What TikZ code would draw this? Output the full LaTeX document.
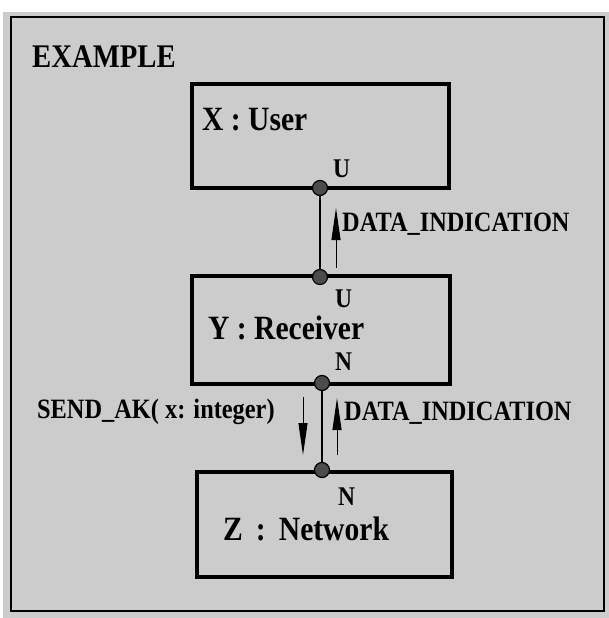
\documentclass[tikz,border=0pt]{standalone}
\usepackage{fontspec}
\setmainfont{Liberation Serif}[FakeStretch=0.87]
\usetikzlibrary{arrows.meta}
\definecolor{screen}{gray}{0.80}
\tikzset{
  unitbox/.style={draw=black, line width=3.4pt, fill=none, inner sep=0pt},
  port/.style={circle, draw=black, line width=1.2pt, fill=black!70, inner sep=0pt, minimum size=15pt},
  channel/.style={line width=2.8pt, black},
  signal/.style={line width=1pt, black, -{Triangle[length=32pt, width=9pt]}},
  title/.style={font=\bfseries\fontsize{33}{33}\selectfont, inner sep=0pt, anchor=base west},
  unitname/.style={font=\bfseries\fontsize{34}{34}\selectfont, inner sep=0pt, anchor=base west},
  gatename/.style={font=\bfseries\fontsize{27}{27}\selectfont, inner sep=0pt, anchor=base west},
  signame/.style={font=\bfseries\fontsize{28}{28}\selectfont, inner sep=0pt, anchor=base west},
}
\begin{document}
\begin{tikzpicture}[x=1pt, y=-1pt]
  \useasboundingbox (0,0) rectangle (609,618);
  % halftone background and frame of the example
  \fill[screen] (3,12) rectangle (609,618);
  \draw[line width=2.4pt] (11,17) rectangle (604,611);
  \node[title] (ex) at (32,67) {EXAMPLE};

  % the three units
  \node[unitbox, minimum width=257pt, minimum height=104pt] (xu) at (320.5,136) {};
  \node[unitbox, minimum width=258pt, minimum height=108pt] (yr) at (321,330) {};
  \node[unitbox, minimum width=255pt, minimum height=105pt] (zn) at (324.5,524.5) {};

  \node[unitname] (xl) at (202,130) {X : User};
  \node[unitname] (yl) at (208,339) {Y : Receiver};
  \node[unitname] (zl) at (223,540) {Z\, :\, Network};

  % gates on the unit borders
  \node[port] (pxu) at (320,188) {};
  \node[port] (pyu) at (320,277) {};
  \node[port] (pyn) at (322,383) {};
  \node[port] (pzn) at (322,470) {};

  \node[gatename] (gxu) at (333,177) {U};
  \node[gatename] (gyu) at (335,307) {U};
  \node[gatename] (gyn) at (335,370) {N};
  \node[gatename] (gzn) at (338,505) {N};

  % channels between gates
  \draw[channel] (pxu) -- (pyu);
  \draw[channel] (pyn) -- (pzn);

  % signals carried by the channels
  \coordinate (s1a) at (336,268);
  \coordinate (s1b) at (336,208);
  \draw[signal] (s1a) -- (s1b);
  \node[signame] (d1) at (342,231) {DATA\_INDICATION};

  \coordinate (s2a) at (303,397);
  \coordinate (s2b) at (303,455);
  \draw[signal] (s2a) -- (s2b);
  \node[signame] (sk) at (37,418) {SEND\_AK( x: integer)};

  \coordinate (s3a) at (337,455);
  \coordinate (s3b) at (337,398);
  \draw[signal] (s3a) -- (s3b);
  \node[signame] (d2) at (344,420) {DATA\_INDICATION};
\end{tikzpicture}
\end{document}
